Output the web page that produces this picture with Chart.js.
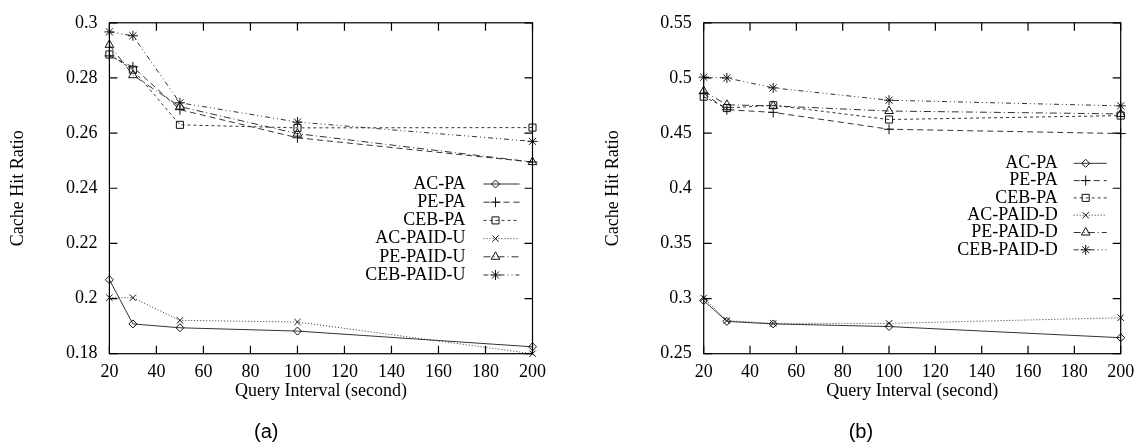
<!DOCTYPE html>
<html>
<head>
<meta charset="utf-8">
<script src="https://cdn.jsdelivr.net/npm/chart.js@4/dist/chart.umd.min.js"></script>
<style>
	html, body { margin: 0; padding: 0; background: #fff; }
	.wrap { position: absolute; top: 0; width: 571px; height: 446px; }
	#wrap-a { left: 0; }
	#wrap-b { left: 571px; }
</style>
</head>
<body>
<div class="wrap" id="wrap-a"><canvas id="chart-a"></canvas></div>
<div class="wrap" id="wrap-b"><canvas id="chart-b"></canvas></div>
<script>
	"use strict";

	// Query interval (second), shared by both panels
	var queryInterval = [20, 30, 50, 100, 200];

	// Panel (a)
	var labelsA   = ['AC-PA', 'PE-PA', 'CEB-PA', 'AC-PAID-U', 'PE-PAID-U', 'CEB-PAID-U'];
	var acPaA     = [0.2068, 0.1908, 0.1894, 0.1882, 0.1825];
	var pePaA     = [0.2880, 0.2840, 0.2685, 0.2583, 0.2495];
	var cebPaA    = [0.2885, 0.2830, 0.2630, 0.2619, 0.2620];
	var acPaidUA  = [0.2003, 0.2003, 0.1921, 0.1915, 0.1800];
	var pePaidUA  = [0.2920, 0.2810, 0.2696, 0.2598, 0.2495];
	var cebPaidUA = [0.2967, 0.2953, 0.2710, 0.2640, 0.2570];
	var yTicksA   = [0.18, 0.2, 0.22, 0.24, 0.26, 0.28, 0.3];

	// Panel (b)
	var labelsB   = ['AC-PA', 'PE-PA', 'CEB-PA', 'AC-PAID-D', 'PE-PAID-D', 'CEB-PAID-D'];
	var acPaB     = [0.2982, 0.2793, 0.2770, 0.2746, 0.2645];
	var pePaB     = [0.4860, 0.4712, 0.4688, 0.4535, 0.4496];
	var cebPaB    = [0.4830, 0.4727, 0.4753, 0.4623, 0.4659];
	var acPaidDB  = [0.3005, 0.2800, 0.2775, 0.2775, 0.2826];
	var pePaidDB  = [0.4880, 0.4756, 0.4747, 0.4700, 0.4674];
	var cebPaidDB = [0.5007, 0.5000, 0.4910, 0.4798, 0.4747];
	var yTicksB   = [0.25, 0.3, 0.35, 0.4, 0.45, 0.5, 0.55];

	var xTicks = [20, 40, 60, 80, 100, 120, 140, 160, 180, 200];

	var serif = "'Liberation Serif', 'DejaVu Serif', serif";

	// line + marker style for the six series (gnuplot look)
	var styles = [
		{ dash: [],               point: 'rectRot',  radius: 4 },
		{ dash: [6, 4],           point: 'cross',    radius: 5 },
		{ dash: [3, 3],           point: 'rect',     radius: 5 },
		{ dash: [1, 2],           point: 'crossRot', radius: 4.5 },
		{ dash: [7, 3, 1, 3],     point: 'triangle', radius: 5 },
		{ dash: [5, 3, 1, 3, 1, 3], point: 'star',   radius: 5 }
	];

	function toPoints(values) {
		var pts = [];
		for (var i = 0; i < queryInterval.length; i++) {
			pts.push({ x: queryInterval[i], y: values[i] });
		}
		return pts;
	}

	function buildDatasets(labels, series) {
		var out = [];
		for (var i = 0; i < series.length; i++) {
			out.push({
				label: labels[i],
				data: toPoints(series[i]),
				borderColor: '#333',
				borderWidth: 1,
				borderDash: styles[i].dash,
				pointStyle: styles[i].point,
				pointRadius: styles[i].radius,
				pointBorderColor: '#111',
				pointBorderWidth: 1,
				pointBackgroundColor: 'rgba(0,0,0,0)',
				fill: false,
				tension: 0,
				clip: false
			});
		}
		return out;
	}

	// box round the plot with inward ticks on all four sides, plus the key
	var framePlugin = {
		id: 'frame',
		afterDatasetsDraw: function (chart) {
			var ctx = chart.ctx;
			var a = chart.chartArea;
			var xs = chart.scales.x, ys = chart.scales.y;
			var len = 8;
			ctx.save();
			ctx.strokeStyle = '#000';
			ctx.lineWidth = 1.2;
			ctx.setLineDash([]);
			ctx.strokeRect(a.left, a.top, a.right - a.left, a.bottom - a.top);
			ctx.beginPath();
			xs.ticks.forEach(function (t) {
				var px = xs.getPixelForValue(t.value);
				ctx.moveTo(px, a.bottom); ctx.lineTo(px, a.bottom - len);
				ctx.moveTo(px, a.top); ctx.lineTo(px, a.top + len);
			});
			ys.ticks.forEach(function (t) {
				var py = ys.getPixelForValue(t.value);
				ctx.moveTo(a.left, py); ctx.lineTo(a.left + len, py);
				ctx.moveTo(a.right, py); ctx.lineTo(a.right - len, py);
			});
			ctx.stroke();

			// key
			var key = chart.options.plugins.frame;
			ctx.font = '18px ' + serif;
			ctx.textAlign = 'right';
			ctx.textBaseline = 'middle';
			chart.data.datasets.forEach(function (ds, i) {
				var y = key.top + i * key.step;
				var tx = a.right - key.textRight;
				ctx.fillStyle = '#000';
				ctx.fillText(ds.label, tx, y);
				ctx.strokeStyle = ds.borderColor;
				ctx.lineWidth = 1;
				ctx.setLineDash(ds.borderDash);
				ctx.beginPath();
				ctx.moveTo(a.right - key.lineStart, y);
				ctx.lineTo(a.right - key.lineEnd, y);
				ctx.stroke();
				ctx.setLineDash([]);
				ctx.strokeStyle = '#111';
				ctx.fillStyle = 'rgba(0,0,0,0)';
				Chart.helpers.drawPoint(ctx, {
					pointStyle: ds.pointStyle,
					radius: ds.pointRadius,
					rotation: 0,
					borderWidth: 1
				}, a.right - key.marker, y);
			});
			ctx.restore();
		}
	};

	function makeChart(id, opts) {
		var ctx = document.getElementById(id).getContext('2d');
		return new Chart(ctx, {
			type: 'line',
			data: { datasets: opts.datasets },
			options: {
				responsive: true,
				maintainAspectRatio: false,
				animation: false,
				devicePixelRatio: 1,
				layout: { padding: { left: opts.padLeft, right: opts.padRight, top: 15, bottom: 0 } },
				plugins: {
					legend: { display: false },
					tooltip: { enabled: false },
					title: {
						display: true,
						text: opts.title,
						position: 'bottom',
						color: '#000',
						font: { family: "'Liberation Sans', Arial, sans-serif", size: 20, weight: 'normal' },
						padding: { top: 2, bottom: 1.7 }
					},
					frame: opts.key
				},
				scales: {
					x: {
						type: 'linear',
						min: 20,
						max: 200,
						afterBuildTicks: function (scale) {
							scale.ticks = xTicks.map(function (v) { return { value: v }; });
						},
						afterFit: function (scale) { scale.height = 64.6; },
						grid: { display: false, drawTicks: false },
						border: { display: false },
						ticks: {
							color: '#000',
							padding: 7.8,
							maxRotation: 0,
							font: { family: serif, size: 18 }
						},
						title: {
							display: true,
							text: 'Query Interval (second)',
							color: '#000',
							font: { family: serif, size: 18 },
							padding: { top: 0, bottom: 15.8 }
						}
					},
					y: {
						type: 'linear',
						min: opts.yTicks[0],
						max: opts.yTicks[opts.yTicks.length - 1],
						afterBuildTicks: function (scale) {
							scale.ticks = opts.yTicks.map(function (v) { return { value: v }; });
						},
						afterFit: function (scale) { scale.width = opts.yWidth; },
						grid: { display: false, drawTicks: false },
						border: { display: false },
						ticks: {
							color: '#000',
							padding: 12,
							font: { family: serif, size: 18 },
							callback: function (v) { return String(+v.toFixed(2)); }
						},
						title: {
							display: true,
							text: 'Cache Hit Ratio',
							color: '#000',
							font: { family: serif, size: 18 },
							padding: { top: 7.2, bottom: 0 }
						}
					}
				}
			},
			plugins: [framePlugin]
		});
	}

	makeChart('chart-a', {
		datasets: buildDatasets(labelsA, [acPaA, pePaA, cebPaA, acPaidUA, pePaidUA, cebPaidUA]),
		yTicks: yTicksA,
		title: '(a)',
		padLeft: 0,
		padRight: 38.5,
		yWidth: 109.4,
		key: { top: 184, step: 18.2, textRight: 67, lineStart: 49, lineEnd: 13, marker: 37 }
	});

	makeChart('chart-b', {
		datasets: buildDatasets(labelsB, [acPaB, pePaB, cebPaB, acPaidDB, pePaidDB, cebPaidDB]),
		yTicks: yTicksB,
		title: '(b)',
		padLeft: 24,
		padRight: 15.3,
		yWidth: 108.7,
		key: { top: 163.3, step: 17.3, textRight: 63, lineStart: 47, lineEnd: 14, marker: 35 }
	});
</script>
</body>
</html>
